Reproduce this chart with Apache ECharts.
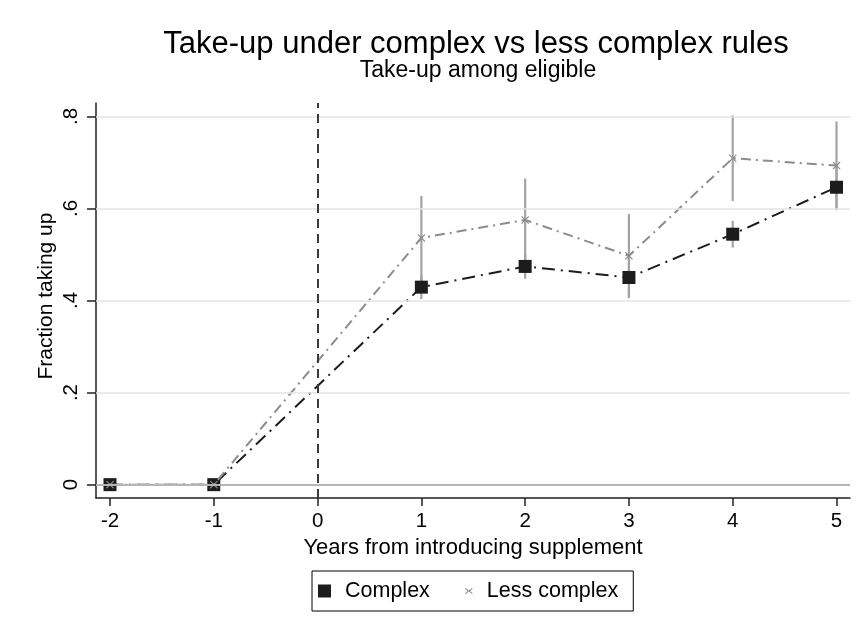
<!DOCTYPE html>
<html>
<head>
<meta charset="utf-8">
<script src="https://cdn.jsdelivr.net/npm/echarts@6/dist/echarts.min.js"></script>
<style>
html,body{margin:0;padding:0;background:#fff;}
#chart{width:858px;height:629px;}
</style>
</head>
<body>
<div id="chart"></div>
<script>
// ---- data ----
var years = [-2, -1, 1, 2, 3, 4, 5];
var complexVals = [0, 0, 0.429, 0.474, 0.450, 0.544, 0.646];
var lessVals = [0, 0, 0.536, 0.575, 0.497, 0.709, 0.693];
var errYears = [1, 2, 3, 4, 5];
var complexLo = [0.403, 0.447, 0.405, 0.515, 0.596];
var complexHi = [0.455, 0.501, 0.495, 0.573, 0.696];
var lessLo = [0.440, 0.485, 0.406, 0.616, 0.597];
var lessHi = [0.627, 0.665, 0.588, 0.802, 0.789];
var xTicks = [-2, -1, 0, 1, 2, 3, 4, 5];
var yTicks = [0, 0.2, 0.4, 0.6, 0.8];
var yGrid = [0.2, 0.4, 0.6, 0.8];

var FONT = '"Liberation Sans", Arial, sans-serif';
var XPATH = 'path://M1,0 L5,4 L9,0 L10,1 L6,5 L10,9 L9,10 L5,6 L1,10 L0,9 L4,5 L0,1 Z';
// legend icons: shape at left, degenerate points widen the bounding box
var LEG_SQUARE = 'path://M0,0 L13,0 L13,13 L0,13 Z M22,6 L22,6';
var LEG_X = 'path://M0,0 L0,0 M22,13 L22,13 M5.8,3.4 L9,6.0 L12.2,3.4 L12.9,4.1 L10.3,6.5 L12.9,8.9 L12.2,9.6 L9,7.0 L5.8,9.6 L5.1,8.9 L7.7,6.5 L5.1,4.1 Z';

function pairs(xs, ys){ return xs.map(function(x,i){ return [x, ys[i]]; }); }
function errData(xs, lo, hi){ return xs.map(function(x,i){ return [x, lo[i], hi[i]]; }); }

function errRender(params, api){
  var x = api.value(0);
  var p1 = api.coord([x, api.value(1)]);
  var p2 = api.coord([x, api.value(2)]);
  return {
    type: 'line',
    shape: {x1: p1[0], y1: p1[1], x2: p2[0], y2: p2[1]},
    style: {stroke: '#a3a3a3', lineWidth: 2.2}
  };
}

var chart = echarts.init(document.getElementById('chart'));
chart.setOption({
  backgroundColor: '#ffffff',
  animation: false,
  title: [{
    text: 'Take-up under complex vs less complex rules',
    left: 471,
    textAlign: 'center',
    top: 24,
    textStyle: {fontFamily: FONT, fontSize: 31, fontWeight: 'normal', color: '#000'}
  }, {
    text: 'Take-up among eligible',
    left: 473,
    textAlign: 'center',
    top: 54,
    textStyle: {fontFamily: FONT, fontSize: 23, fontWeight: 'normal', color: '#000'}
  }],
  graphic: [{
    type: 'text',
    x: 46, y: 296,
    rotation: Math.PI / 2,
    style: {text: 'Fraction taking up', font: '21px ' + FONT, fill: '#000', align: 'center', verticalAlign: 'middle'}
  }],
  legend: {
    bottom: 18,
    left: 312,
    orient: 'horizontal',
    borderColor: '#000',
    borderWidth: 1,
    padding: [9, 15, 9, 6],
    itemGap: 30,
    itemWidth: 22,
    itemHeight: 13,
    textStyle: {fontFamily: FONT, fontSize: 21.5, color: '#000'},
    data: [
      {name: 'Complex', icon: LEG_SQUARE, itemStyle: {color: '#1c1c1c'}},
      {name: 'Less complex', icon: LEG_X, itemStyle: {color: '#8c8c8c'}}
    ]
  },
  grid: {left: 96, right: 8, top: 103, bottom: 131},
  xAxis: {
    type: 'value',
    min: -2.135,
    max: 5.13,
    name: 'Years from introducing supplement',
    nameLocation: 'middle',
    nameGap: 39,
    nameTextStyle: {fontFamily: FONT, fontSize: 22, color: '#000'},
    axisLine: {show: true, onZero: false, lineStyle: {color: '#222', width: 1.5}},
    axisTick: {show: true, length: 8, customValues: xTicks, lineStyle: {color: '#222', width: 1.5}},
    axisLabel: {customValues: xTicks, margin: 13, fontFamily: FONT, fontSize: 20.5, color: '#000'},
    splitLine: {show: false}
  },
  yAxis: {
    type: 'value',
    min: -0.029,
    max: 0.829,
    axisLine: {show: true, onZero: false, lineStyle: {color: '#222', width: 1.5}},
    axisTick: {show: true, length: 9, customValues: yTicks, lineStyle: {color: '#222', width: 1.5}},
    axisLabel: {
      customValues: yTicks,
      rotate: 90,
      margin: 14,
      fontFamily: FONT, fontSize: 20.5, color: '#000',
      formatter: function(v){ if (Math.abs(v) < 1e-9) return '0'; return String(Math.round(v*10)/10).replace(/^0/, ''); }
    },
    splitLine: {show: false}
  },
  series: [
    {
      name: 'grid',
      type: 'line',
      data: [],
      silent: true,
      markLine: {
        silent: true, symbol: 'none', label: {show: false},
        data: yGrid.map(function(v){ return {yAxis: v, lineStyle: {color: '#e5e5e5', width: 1.5, type: 'solid'}}; })
          .concat([{yAxis: 0, lineStyle: {color: '#b5b5b5', width: 2, type: 'solid'}},
                   {xAxis: 0, lineStyle: {color: '#3a3a3a', width: 2, type: [9, 6]}}])
      }
    },
    {
      name: 'errLess', type: 'custom', renderItem: errRender,
      data: errData(errYears, lessLo, lessHi), z: 2, silent: true
    },
    {
      name: 'errComplex', type: 'custom', renderItem: errRender,
      data: errData(errYears, complexLo, complexHi), z: 2, silent: true
    },
    {
      name: 'Complex',
      type: 'line',
      data: pairs(years, complexVals),
      symbol: 'rect',
      symbolSize: 13,
      itemStyle: {color: '#1c1c1c'},
      lineStyle: {color: '#1c1c1c', width: 2, type: [13, 6, 2, 6]},
      z: 3
    },
    {
      name: 'Less complex',
      type: 'line',
      data: pairs(years, lessVals),
      symbol: XPATH,
      symbolSize: 8,
      itemStyle: {color: '#8c8c8c'},
      lineStyle: {color: '#8c8c8c', width: 2, type: [10, 5, 2, 5]},
      z: 4
    }
  ]
});
</script>
</body>
</html>
